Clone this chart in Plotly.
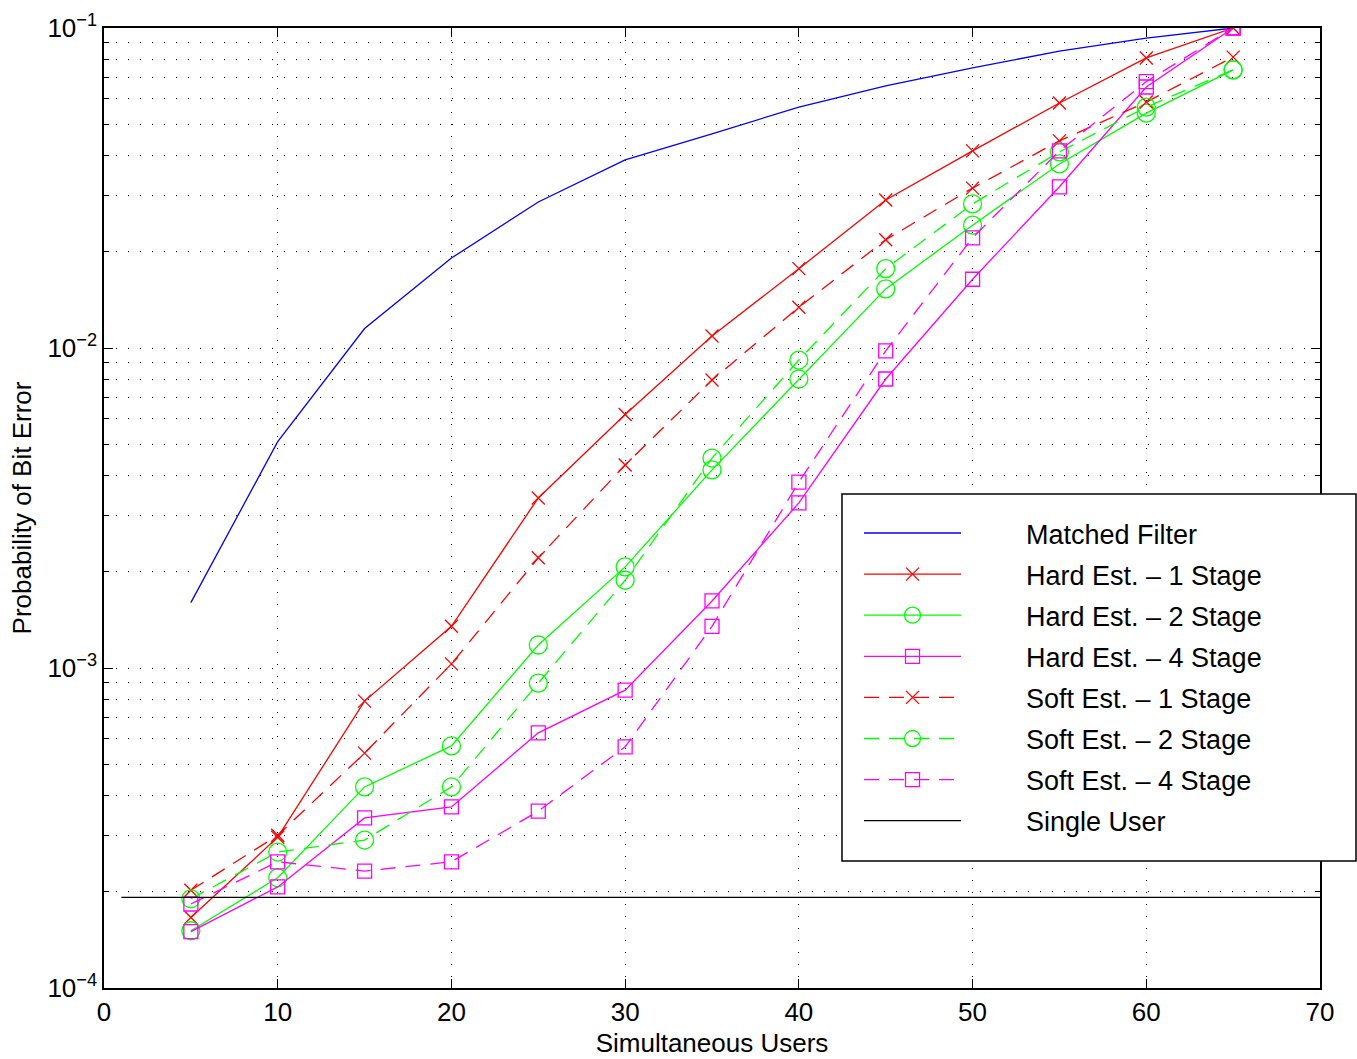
import plotly.graph_objects as go

users = [5, 10, 15, 20, 25, 30, 35, 40, 45, 50, 55, 60, 65]

matched_filter = [1.6e-3, 5.1e-3, 1.15e-2, 1.91e-2, 2.86e-2, 3.87e-2, 4.67e-2, 5.66e-2, 6.59e-2, 7.5e-2, 8.47e-2, 9.3e-2, 1.0e-1]
hard_1 = [1.66e-4, 2.96e-4, 7.88e-4, 1.35e-3, 3.4e-3, 6.2e-3, 1.09e-2, 1.77e-2, 2.9e-2, 4.13e-2, 5.83e-2, 8.06e-2, 1.0e-1]
hard_2 = [1.51e-4, 2.21e-4, 4.25e-4, 5.71e-4, 1.18e-3, 2.07e-3, 4.16e-3, 8.0e-3, 1.53e-2, 2.42e-2, 3.76e-2, 5.42e-2, 7.4e-2]
hard_4 = [1.5e-4, 2.07e-4, 3.4e-4, 3.68e-4, 6.27e-4, 8.53e-4, 1.62e-3, 3.28e-3, 8.0e-3, 1.64e-2, 3.19e-2, 6.54e-2, 1.0e-1]
soft_1 = [2.02e-4, 3.0e-4, 5.42e-4, 1.03e-3, 2.21e-3, 4.31e-3, 7.94e-3, 1.34e-2, 2.18e-2, 3.16e-2, 4.44e-2, 5.87e-2, 8.11e-2]
soft_2 = [1.9e-4, 2.66e-4, 2.9e-4, 4.25e-4, 8.97e-4, 1.88e-3, 4.53e-3, 9.17e-3, 1.77e-2, 2.82e-2, 4.1e-2, 5.66e-2, 7.4e-2]
soft_4 = [1.83e-4, 2.48e-4, 2.32e-4, 2.48e-4, 3.57e-4, 5.67e-4, 1.35e-3, 3.81e-3, 9.8e-3, 2.21e-2, 4.13e-2, 6.8e-2, 1.0e-1]

single_user_x = [1, 70]
single_user_y = [1.92e-4, 1.92e-4]

y_tickvals = [1e-4, 1e-3, 1e-2, 1e-1]
y_ticktext = ["10<sup>\u22124</sup>", "10<sup>\u22123</sup>", "10<sup>\u22122</sup>", "10<sup>\u22121</sup>"]
y_minor_tickvals = [m * d for d in (1e-4, 1e-3, 1e-2) for m in range(2, 10)]
x_tickvals = [0, 10, 20, 30, 40, 50, 60, 70]

DASH = "15px,10px"
PAD = "\u00a0" * 8
series = [
    ("Matched Filter", users, matched_filter, "#0000ff", "solid", None, 0),
    ("Hard Est. \u2013 1 Stage", users, hard_1, "#ff0000", "solid", "x-thin", 13),
    ("Hard Est. \u2013 2 Stage", users, hard_2, "#00ff00", "solid", "circle-open", 18),
    ("Hard Est. \u2013 4 Stage", users, hard_4, "#ff00ff", "solid", "square-open", 14),
    ("Soft Est. \u2013 1 Stage", users, soft_1, "#ff0000", DASH, "x-thin", 13),
    ("Soft Est. \u2013 2 Stage", users, soft_2, "#00ff00", DASH, "circle-open", 18),
    ("Soft Est. \u2013 4 Stage", users, soft_4, "#ff00ff", DASH, "square-open", 14),
    ("Single User", single_user_x, single_user_y, "#000000", "solid", None, 0),
]

fig = go.Figure()
for i, (name, xs, ys, color, dash, sym, size) in enumerate(series):
    kw = dict(
        x=xs, y=ys, name=PAD + name,
        line=dict(color=color, width=1.3, dash=dash),
        legendgroup="g%d" % i,
        cliponaxis=True,
    )
    if sym:
        kw["mode"] = "lines+markers"
        kw["marker"] = dict(symbol=sym, size=size, color=color,
                            line=dict(color=color, width=1.3))
    else:
        kw["mode"] = "lines"
    fig.add_trace(go.Scatter(**kw))

font_family = "Liberation Sans, Arial, Helvetica, sans-serif"

# legend frame (MATLAB-style box with generous padding)
fig.add_shape(type="rect", xref="paper", yref="paper",
              x0=0.6069, x1=1.0296, y0=0.1323, y1=0.5146,
              line=dict(color="black", width=1.5), fillcolor="white",
              layer="above")

fig.update_layout(
    width=1357, height=1059,
    margin=dict(l=104, r=37, t=28, b=71),
    paper_bgcolor="white", plot_bgcolor="white",
    font=dict(family=font_family, size=26, color="black"),
    showlegend=True,
    legend=dict(
        x=0.6209, y=0.4990, xanchor="left", yanchor="top",
        bgcolor="rgba(0,0,0,0)", borderwidth=0,
        font=dict(size=27, family=font_family),
        itemwidth=97,
        traceorder="grouped",
        tracegroupgap=3,
    ),
    xaxis=dict(
        range=[0, 70], tickvals=x_tickvals,
        showline=True, linecolor="black", linewidth=1.5, mirror="allticks",
        ticks="inside", ticklen=9, tickcolor="black",
        showgrid=True, gridcolor="black", gridwidth=1, griddash="1px,11px",
        zeroline=False, automargin=False,
        tickfont=dict(size=26),
        title=dict(text="Simultaneous Users", font=dict(size=26), standoff=8),
    ),
    yaxis=dict(
        type="log", range=[-4, -1],
        tickvals=y_tickvals, ticktext=y_ticktext,
        showline=True, linecolor="black", linewidth=1.5, mirror="allticks",
        ticks="inside", ticklen=9, tickcolor="black",
        showgrid=True, gridcolor="black", gridwidth=1, griddash="1px,11px",
        zeroline=False, automargin=False,
        tickfont=dict(size=26),
        minor=dict(tickvals=y_minor_tickvals, ticks="inside", ticklen=5, tickcolor="black",
                   showgrid=True, gridcolor="black", gridwidth=1, griddash="1px,11px"),
        title=dict(text="Probability of Bit Error", font=dict(size=26), standoff=8),
    ),
)

fig.write_html("out.html")
